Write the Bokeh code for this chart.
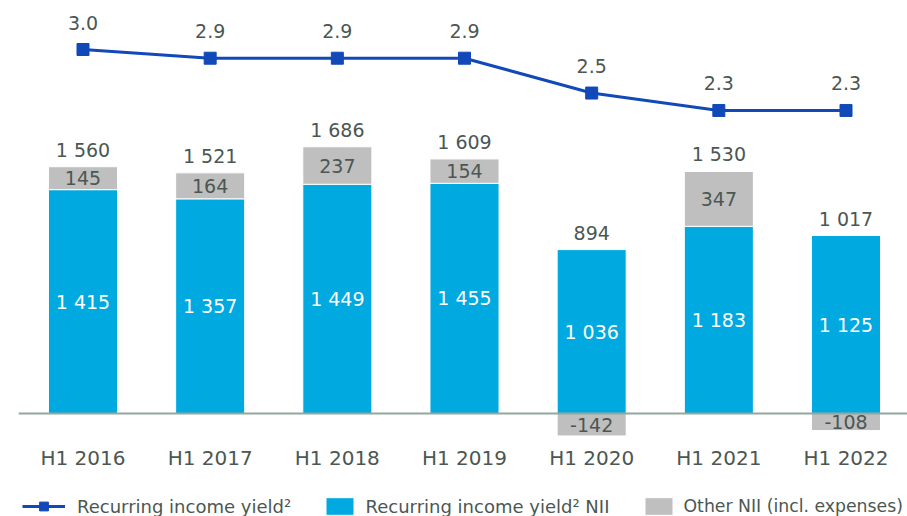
from bokeh.plotting import figure
from bokeh.models import ColumnDataSource, Range1d, Span, Legend, LegendItem
from bokeh.core.properties import value
from bokeh.embed import file_html
from bokeh.resources import INLINE

# ---- data ----
categories = ["H1 2016", "H1 2017", "H1 2018", "H1 2019", "H1 2020", "H1 2021", "H1 2022"]
recurring_nii = [1415, 1357, 1449, 1455, 1036, 1183, 1125]
other_nii = [145, 164, 237, 154, -142, 347, -108]
total_nii = [1560, 1521, 1686, 1609, 894, 1530, 1017]
recurring_yield = [3.0, 2.9, 2.9, 2.9, 2.5, 2.3, 2.3]

BLUE = "#00a9e0"
GREY = "#bfbfbf"
LINE = "#1149b8"
TXT = "#4b5752"
FONT = "DejaVu Sans"


def fmt(v):
    return f"{v:,}".replace(",", " ")


x = list(range(len(categories)))
grey_bottom = [n if o > 0 else 0 for n, o in zip(recurring_nii, other_nii)]
grey_top = [n + o if o > 0 else o for n, o in zip(recurring_nii, other_nii)]
grey_mid = [(b + t) / 2 for b, t in zip(grey_bottom, grey_top)]
total_y = [n + max(o, 0) for n, o in zip(recurring_nii, other_nii)]

src = ColumnDataSource(dict(
    x=x, cat=categories, zero=[0] * len(categories),
    nii=recurring_nii, nii_mid=[n / 2 for n in recurring_nii],
    nii_lbl=[fmt(v) for v in recurring_nii],
    gb=grey_bottom, gt=grey_top, gm=grey_mid, o_lbl=[fmt(v) for v in other_nii],
    ty=total_y, t_lbl=[fmt(v) for v in total_nii],
    yld=recurring_yield, y_lbl=[f"{v:.1f}" for v in recurring_yield],
))

p = figure(width=907, height=516, output_backend="svg", toolbar_location=None,
           x_range=Range1d(-0.5072, 6.4835), y_range=Range1d(-651.1, 2610.6),
           x_axis_location=None, y_axis_location=None,
           min_border_left=18, min_border_right=0, min_border_top=0, min_border_bottom=0)
p.outline_line_color = None
p.xgrid.visible = False
p.ygrid.visible = False
p.extra_y_ranges = {"yield": Range1d(-2.3616, 3.5626)}

bw = 0.543
blue_r = p.vbar(x="x", bottom=0, top="nii", width=bw, source=src,
                fill_color=BLUE, line_color="white", line_width=1)
grey_r = p.vbar(x="x", bottom="gb", top="gt", width=bw, source=src,
                fill_color=GREY, line_color="white", line_width=1)

p.add_layout(Span(location=0, dimension="width", line_color="#93a89d", line_width=2))

line_r = p.line("x", "yld", source=src, y_range_name="yield", line_color=LINE, line_width=3)
mark_r = p.scatter("x", "yld", source=src, y_range_name="yield", marker="square",
                   size=12, fill_color=LINE, line_color=LINE)

common = dict(text_align="center", text_baseline="middle", text_font=value(FONT),
              text_font_size="19px")
p.text("x", "nii_mid", text="nii_lbl", source=src, text_color="white", **common)
p.text("x", "gm", text="o_lbl", source=src, text_color=TXT, **common)
p.text("x", "ty", text="t_lbl", source=src, text_color=TXT, y_offset=-17, **common)
p.text("x", "yld", text="y_lbl", source=src, text_color=TXT, y_offset=-27,
       y_range_name="yield", **common)

# category (tick) labels under the baseline
p.text("x", "zero", text="cat", source=src, text_color=TXT, y_offset=45,
       text_align="center", text_baseline="middle", text_font=value(FONT),
       text_font_size="20px")

leg_common = dict(orientation="horizontal", padding=0, margin=0, spacing=0,
                  border_line_alpha=0, background_fill_alpha=0,
                  label_text_font=FONT, label_text_color=TXT, glyph_height=22)
leg1 = Legend(items=[LegendItem(label="Recurring income yield\u00b2", renderers=[line_r, mark_r])],
              location=(4, -1), glyph_width=43, label_standoff=12,
              label_text_font_size="18px", **leg_common)
leg2 = Legend(items=[LegendItem(label="Recurring income yield\u00b2 NII", renderers=[blue_r])],
              location=(303.5, -1), glyph_width=35, label_standoff=9,
              label_text_font_size="18px", **leg_common)
leg3 = Legend(items=[LegendItem(label="Other NII (incl. expenses)", renderers=[grey_r])],
              location=(622.5, -1), glyph_width=35, label_standoff=8,
              label_text_font_size="17.3px", **leg_common)
for lg in (leg1, leg2, leg3):
    p.add_layout(lg)

open("out.html", "w").write(file_html(p, INLINE))
